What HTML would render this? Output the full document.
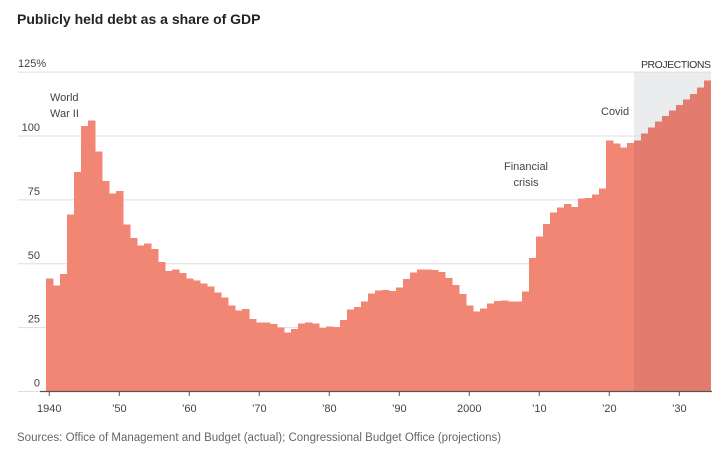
<!DOCTYPE html>
<html><head><meta charset="utf-8"><style>
body{margin:0;background:#fff;font-family:"Liberation Sans",sans-serif;}
svg text{font-family:"Liberation Sans",sans-serif;}
</style></head><body>
<svg width="721" height="452">
<text x="17" y="24" font-size="14" font-weight="bold" fill="#222">Publicly held debt as a share of GDP</text>
<rect x="634" y="72" width="77" height="320" fill="#ebeced"/>
<g id="grid"></g>
<g id="bars" shape-rendering="crispEdges"></g>
<g id="axis"></g>
<text x="641" y="68" font-size="10.5" fill="#333" textLength="70">PROJECTIONS</text>
<text x="50" y="101" font-size="11" fill="#444">World</text>
<text x="50" y="117" font-size="11" fill="#444">War II</text>
<text x="601" y="115" font-size="11" fill="#444">Covid</text>
<text x="526" y="170" font-size="11" fill="#444" text-anchor="middle">Financial</text>
<text x="526" y="186" font-size="11" fill="#444" text-anchor="middle">crisis</text>
<text x="17" y="441" font-size="11.5" fill="#666">Sources: Office of Management and Budget (actual); Congressional Budget Office (projections)</text>
</svg>
<script>
const startYear = 1940;
const debt = [44.2,41.5,45.9,69.2,86.0,103.9,106.1,93.9,82.4,77.4,78.5,65.4,60.1,57.1,57.9,55.7,50.6,47.2,47.7,46.4,
44.3,43.5,42.3,41.0,38.7,36.7,33.7,31.8,32.2,28.3,27.0,27.1,26.4,25.1,23.1,24.5,26.7,27.1,26.6,24.9,
25.5,25.2,27.9,32.1,33.1,35.3,38.4,39.5,39.8,39.3,40.8,44.0,46.6,47.8,47.7,47.5,46.8,44.5,41.6,38.2,
33.6,31.4,32.5,34.5,35.5,35.6,35.3,35.2,39.2,52.3,60.6,65.5,70.0,72.0,73.3,72.2,75.6,75.7,77.1,79.4,
98.3,97.0,95.5,97.3,98.2,101.0,103.4,105.6,107.9,110.0,112.2,114.2,116.5,119.0,121.7];
const firstProjectionYear = 2024;
const yTicks = [0,25,50,75,100,125];
const yTickLabels = ["0","25","50","75","100","125%"];
const xTicks = [1940,1950,1960,1970,1980,1990,2000,2010,2020,2030];
const xTickLabels = ["1940","’50","’60","’70","’80","’90","2000","’10","’20","’30"];
const NS="http://www.w3.org/2000/svg";
const x = yr => 49.3 + 7.0*(yr-1940);
const y = v => 391.5 - 2.555*v;
function mk(tag, attrs, parent, text){const e=document.createElementNS(NS,tag);for(const k in attrs)e.setAttribute(k,attrs[k]);if(text!==undefined)e.textContent=text;document.getElementById(parent).appendChild(e);return e;}
yTicks.forEach((t,i)=>{
  const l=mk('line',{x1:18,x2:711,y1:y(t),y2:y(t),stroke:'#dedede','stroke-width':1},'grid');
  
  
  const tx=mk('text',{x:40,y:y(t)-5,'font-size':11,fill:'#444','text-anchor':'end'},'grid',yTickLabels[i]);
  if(i===yTicks.length-1) tx.setAttribute('text-anchor','start'), tx.setAttribute('x',18);
  
  
});
debt.forEach((v,i)=>{
  const yr=startYear+i;
  const last = i===debt.length-1;
  const r=mk('rect',{x:x(yr)-3.5,y:y(v),width:last?7.0:7.6,height:y(0)-y(v),fill: yr>=firstProjectionYear?'#e17c6e':'#f28674'},'bars');
  
  
});
const ax=mk('line',{x1:40,x2:712,y1:391.5,y2:391.5,stroke:'#555','stroke-width':1.2},'axis');


xTicks.forEach((t,i)=>{
  const tk=mk('line',{x1:x(t),x2:x(t),y1:392,y2:396,stroke:'#555'},'axis');
  
  
  const tx=mk('text',{x:x(t),y:412,'font-size':11,fill:'#444','text-anchor':'middle'},'axis',xTickLabels[i]);
  
  
});
</script>
</body></html>
